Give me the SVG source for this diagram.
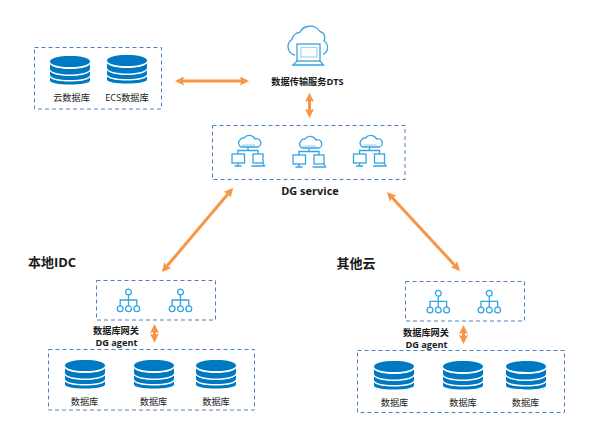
<svg xmlns="http://www.w3.org/2000/svg" width="595" height="443" viewBox="0 0 595 443">
<style>
text{font-family:"Open Sans","Noto Sans CJK SC",sans-serif;fill:#1a1a1a;text-anchor:middle}
.s{font-size:9.200px}
.sb{font-size:9.200px;font-weight:700}
.b{font-size:11px;font-weight:700}
.h{font-size:13px;font-weight:700}
.box{fill:none;stroke:#4f81bd;stroke-width:1;stroke-dasharray:4 3}
.line{stroke:#f79646;stroke-width:3;fill:none;marker-start:url(#ah);marker-end:url(#ah)}
.ic{fill:none;stroke:#35a4e0;stroke-width:1.300}
.pale{fill:none;stroke:#a9d3ea;stroke-width:1.200}
.db{fill:#0079c3}
</style>
<defs>
<marker id="ah" viewBox="0 0 10 10" refX="7" refY="5" markerWidth="3" markerHeight="3" markerUnits="strokeWidth" orient="auto-start-reverse"><path d="M0 0L10 5L0 10L1.500 5Z" fill="#f79646"/></marker>
<g id="dbi">
<path class="db" d="M0 5.500C0 2 9 0 20 0S40 2 40 5.500S31 11 20 11S0 9 0 5.500Z"/>
<path class="db" d="M0 8.500C3 11.500 11 13 20 13S37 11.500 40 8.500V13C40 16 31 18.500 20 18.500S0 16 0 13Z"/>
<path class="db" d="M0 15.500C3 18.500 11 20 20 20S37 18.500 40 15.500V19C40 22 31 24 20 24S0 22 0 19Z"/>
<path class="db" d="M0 21.500C3 24.500 11 25.500 20 25.500S37 24.500 40 21.500V24.500C40 27 31 28.500 20 28.500S0 27 0 24.500Z"/>
</g>
<g id="net">
<path class="ic" d="M-6 2a4 4 0 0 1-2-7a4 4 0 0 1 4-2a6.500 6.500 0 0 1 11 1a4.200 4.200 0 0 1 3 8Z"/>
<path class="pale" d="M-6 0H7"/>
<path class="ic" d="M0 2V5.500M-10 9V5.500H10V9"/>
<rect class="ic" x="-16" y="9" width="12.500" height="9"/>
<path class="ic" d="M-10 18V20.500M-13.500 21H-6.500"/>
<rect class="ic" x="5" y="9" width="10" height="9"/>
<path class="ic" d="M3.500 21H16.500L15 18"/>
</g>
<g id="org">
<circle class="ic" cx="0" cy="-8.500" r="2.900"/>
<path class="ic" d="M0 -5.600V5.300M-8.300 5.300V-0.500H8.300V5.300"/>
<circle class="ic" cx="-8.300" cy="8.200" r="2.900"/>
<circle class="ic" cx="0" cy="8.200" r="2.900"/>
<circle class="ic" cx="8.300" cy="8.200" r="2.900"/>
</g>
</defs>

<g id="connectors">
<path class="line" d="M177.700 81H246.300"/>
<path class="line" d="M309.500 95.500V115.300"/>
<path class="line" d="M231.300 190L163.700 270"/>
<path class="line" d="M388.800 194L458.200 269"/>
<path class="line" d="M154.500 326.700V340"/>
<path class="line" d="M463.500 327.700V341.300"/>
</g>

<g id="cloud-dbs">
<rect class="box" x="34.500" y="47.500" width="127" height="61.500"/>
<use href="#dbi" x="50" y="56"/>
<use href="#dbi" x="107" y="55"/>
<text class="s" x="71.500" y="101">云数据库</text>
<text class="s" x="127" y="101">ECS数据库</text>
</g>

<g id="dts">
<path class="ic" d="M295 55a8.500 8.500 0 0 1-3-15.500a8 8 0 0 1 7.500-7a12 12 0 0 1 20.500 -1c4 1 6 5 4 9a8.500 8.500 0 0 1 3 10a7 7 0 0 1-4 4"/>
<rect class="ic" x="297" y="44" width="23" height="17" fill="#fff" style="fill:#fff"/>
<rect class="pale" x="301" y="47.500" width="16" height="9.500"/>
<path class="ic" d="M297 61L293 65H323.500L320 61"/>
<text class="sb" x="307.500" y="85">数据传输服务DTS</text>
</g>

<g id="dg-service">
<rect class="box" x="212.500" y="125.500" width="192.500" height="54"/>
<use href="#net" x="248" y="145"/>
<use href="#net" x="309" y="146"/>
<use href="#net" x="369.500" y="145"/>
<text class="b" x="310" y="195">DG service</text>
</g>

<g id="idc">
<text class="h" x="52" y="267">本地IDC</text>
<rect class="box" x="96.500" y="280.500" width="119" height="39.500"/>
<use href="#org" x="128.500" y="300.500"/>
<use href="#org" x="180.500" y="300.500"/>
<text class="sb" x="116" y="334">数据库网关</text>
<text class="sb" x="116.500" y="346">DG agent</text>
<rect class="box" x="48.500" y="349.500" width="206" height="60.500"/>
<use href="#dbi" x="65" y="360"/>
<use href="#dbi" x="134" y="360"/>
<use href="#dbi" x="196" y="360"/>
<text class="s" x="84.500" y="404.500">数据库</text>
<text class="s" x="153.500" y="404.500">数据库</text>
<text class="s" x="216" y="404.500">数据库</text>
</g>

<g id="other-cloud">
<text class="h" x="356" y="268">其他云</text>
<rect class="box" x="405.500" y="281.500" width="119" height="39.500"/>
<use href="#org" x="438.300" y="301.800"/>
<use href="#org" x="489.300" y="301.800"/>
<text class="sb" x="426" y="336">数据库网关</text>
<text class="sb" x="426.500" y="348">DG agent</text>
<rect class="box" x="357.500" y="350.500" width="207" height="62"/>
<use href="#dbi" x="374" y="361"/>
<use href="#dbi" x="443" y="361"/>
<use href="#dbi" x="506" y="361"/>
<text class="s" x="394.500" y="405.500">数据库</text>
<text class="s" x="463" y="405.500">数据库</text>
<text class="s" x="525.500" y="405.500">数据库</text>
</g>
</svg>
